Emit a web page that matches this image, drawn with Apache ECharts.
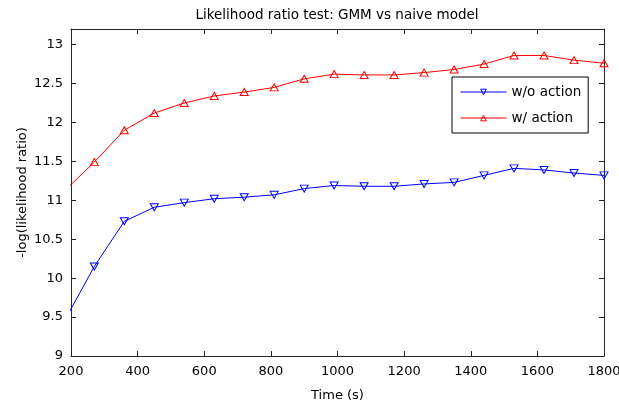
<!DOCTYPE html>
<html>
<head>
<meta charset="utf-8">
<script src="https://cdn.jsdelivr.net/npm/echarts@6/dist/echarts.min.js"></script>
<style>
html,body{margin:0;padding:0;background:#fff;}
#chart{width:619px;height:410px;}
</style>
</head>
<body>
<div id="chart"></div>
<script>
var times = [180, 270, 360, 450, 540, 630, 720, 810, 900, 990, 1080, 1170, 1260, 1350, 1440, 1530, 1620, 1710, 1800];
var withoutAction = [9.45, 10.15, 10.73, 10.91, 10.97, 11.02, 11.04, 11.07, 11.15, 11.19, 11.18, 11.18, 11.21, 11.23, 11.32, 11.41, 11.39, 11.35, 11.32];
var withAction = [11.12, 11.49, 11.90, 12.12, 12.25, 12.34, 12.39, 12.45, 12.56, 12.62, 12.61, 12.61, 12.64, 12.68, 12.75, 12.86, 12.86, 12.80, 12.76];
var xTicks = [200, 400, 600, 800, 1000, 1200, 1400, 1600, 1800];
var yTicks = [9, 9.5, 10, 10.5, 11, 11.5, 12, 12.5, 13];
var seriesNames = ['w/o action', 'w/ action'];
var titleText = 'Likelihood ratio test: GMM vs naive model';
var xName = 'Time (s)';
var yName = '-log(likelihood ratio)';

function pairs(xs, ys) { return xs.map(function (x, i) { return [x, ys[i]]; }); }

var font = 'DejaVu Sans';
var axisColor = '#262626';
var chart = echarts.init(document.getElementById('chart'));

function baseAxis(extra) {
  var a = {
    axisLine: { show: true, onZero: false, lineStyle: { color: axisColor, width: 1 } },
    axisTick: { show: true, inside: true, length: 5, lineStyle: { color: axisColor } },
    splitLine: { show: false }
  };
  for (var k in extra) a[k] = extra[k];
  return a;
}

chart.setOption({
  animation: false,
  backgroundColor: '#fff',
  title: {
    text: titleText,
    left: 332,
    textAlign: 'center',
    top: 3,
    textStyle: { fontFamily: font, fontSize: 13.5, fontWeight: 'normal', color: '#000' }
  },
  grid: { left: 71, right: 15, top: 29, bottom: 54, outerBoundsMode: 'none', containLabel: false },
  legend: {
    data: seriesNames,
    orient: 'vertical',
    left: 452,
    top: 77,
    itemWidth: 46,
    itemHeight: 7,
    itemGap: 12,
    padding: [8, 7, 8, 8],
    borderColor: '#000',
    borderWidth: 1,
    backgroundColor: '#fff',
    lineStyle: { width: 1 },
    itemStyle: { borderWidth: 1 },
    textStyle: { fontFamily: font, fontSize: 13.5, color: '#000', padding: [0, 0, 0, 0] }
  },
  xAxis: [
    baseAxis({
      type: 'value', min: 200, max: 1800, interval: 200, position: 'bottom',
      name: xName, nameLocation: 'middle', nameGap: 33,
      nameTextStyle: { fontFamily: font, fontSize: 13, color: '#000' },
      axisLabel: { fontFamily: font, fontSize: 13, color: '#000', margin: 9,
        formatter: function (v) { return xTicks.indexOf(v) >= 0 ? String(v) : ''; } }
    }),
    baseAxis({
      type: 'value', min: 200, max: 1800, interval: 200, position: 'top',
      axisLabel: { show: false }
    })
  ],
  yAxis: [
    baseAxis({
      type: 'value', min: 9, max: 13.2, interval: 0.5, position: 'left',
      name: yName, nameLocation: 'middle', nameGap: 42, nameMoveOverlap: false,
      nameTextStyle: { fontFamily: font, fontSize: 13, color: '#000' },
      axisLabel: { fontFamily: font, fontSize: 13, color: '#000', margin: 8,
        formatter: function (v) { return yTicks.indexOf(v) >= 0 ? String(v) : ''; } }
    }),
    baseAxis({
      type: 'value', min: 9, max: 13.2, interval: 0.5, position: 'right',
      axisLabel: { show: false }
    })
  ],
  series: [
    {
      name: seriesNames[0], type: 'line', data: pairs(times, withoutAction),
      xAxisIndex: 0, yAxisIndex: 0, clip: true,
      symbol: 'triangle', symbolRotate: 180, symbolSize: [8, 7], showAllSymbol: true,
      lineStyle: { color: '#0000ff', width: 1 },
      itemStyle: { color: 'rgba(255,255,255,0)', borderColor: '#0000ff', borderWidth: 1 },
      emphasis: { disabled: true }
    },
    {
      name: seriesNames[1], type: 'line', data: pairs(times, withAction),
      xAxisIndex: 0, yAxisIndex: 0, clip: true,
      symbol: 'triangle', symbolSize: [8, 7], showAllSymbol: true,
      lineStyle: { color: '#ff0000', width: 1 },
      itemStyle: { color: 'rgba(255,255,255,0)', borderColor: '#ff0000', borderWidth: 1 },
      emphasis: { disabled: true }
    }
  ]
});
</script>
</body>
</html>
